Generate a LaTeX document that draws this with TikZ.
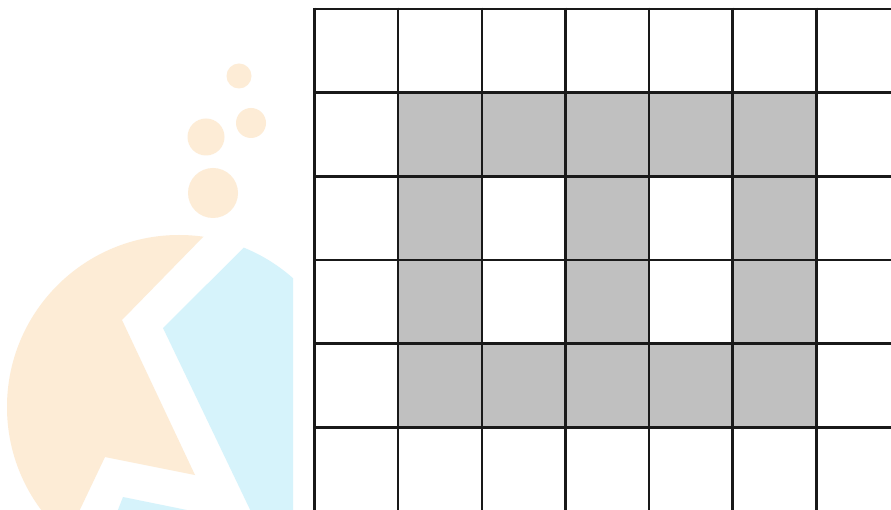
\documentclass[tikz,border=0pt]{standalone}
\usetikzlibrary{calc}
\definecolor{logoorange}{RGB}{253,236,214}
\definecolor{logoblue}{RGB}{214,243,251}
\definecolor{cellgray}{RGB}{192,192,192}
\tikzset{
  gridline/.style={line width=2.6pt, draw=black!90},
  graycell/.style={fill=cellgray},
}
\begin{document}
\begin{tikzpicture}[x=1pt,y=-1pt]
\useasboundingbox (0,0) rectangle (891,510);
\fill[white] (0,0) rectangle (891,510);
\clip (0,0) rectangle (891,510);
% watermark logo
\begin{scope}
  \clip (0,0) rectangle (293,510);
  \clip (179,407) circle (172);
  \fill[logoorange] (-10,150) -- (288,150) -- (122,320) -- (195,475) -- (105,457) -- (75,520) -- (-10,520) -- cycle;
  \fill[logoblue] (342,150) -- (163,328) -- (255,520) -- (400,520) -- (400,150) -- cycle;
  \fill[logoblue] (123,497) -- (236,520) -- (114,520) -- cycle;
\end{scope}
\fill[logoorange] (239,76) circle (12.5);
\fill[logoorange] (251,123) circle (15);
\fill[logoorange] (206,137) circle (18.5);
\fill[logoorange] (213,193) circle (25);
% grid
\def\gx{314.5}\def\gy{9}\def\cs{83.65}
\foreach \c/\r in {1/1,2/1,3/1,4/1,5/1,1/2,3/2,5/2,1/3,3/3,5/3,1/4,2/4,3/4,4/4,5/4}{
  \fill[graycell] ({\gx+\c*\cs},{\gy+\r*\cs}) rectangle ({\gx+(\c+1)*\cs},{\gy+(\r+1)*\cs});
}
\foreach \i in {0,...,7}{
  \draw[gridline] ({\gx+\i*\cs},{\gy-1.3}) -- ({\gx+\i*\cs},{\gy+6*\cs+1.3});
}
\foreach \j in {0,...,6}{
  \draw[gridline] ({\gx-1.3},{\gy+\j*\cs}) -- ({\gx+7*\cs+1.3},{\gy+\j*\cs});
}
\end{tikzpicture}
\end{document}
